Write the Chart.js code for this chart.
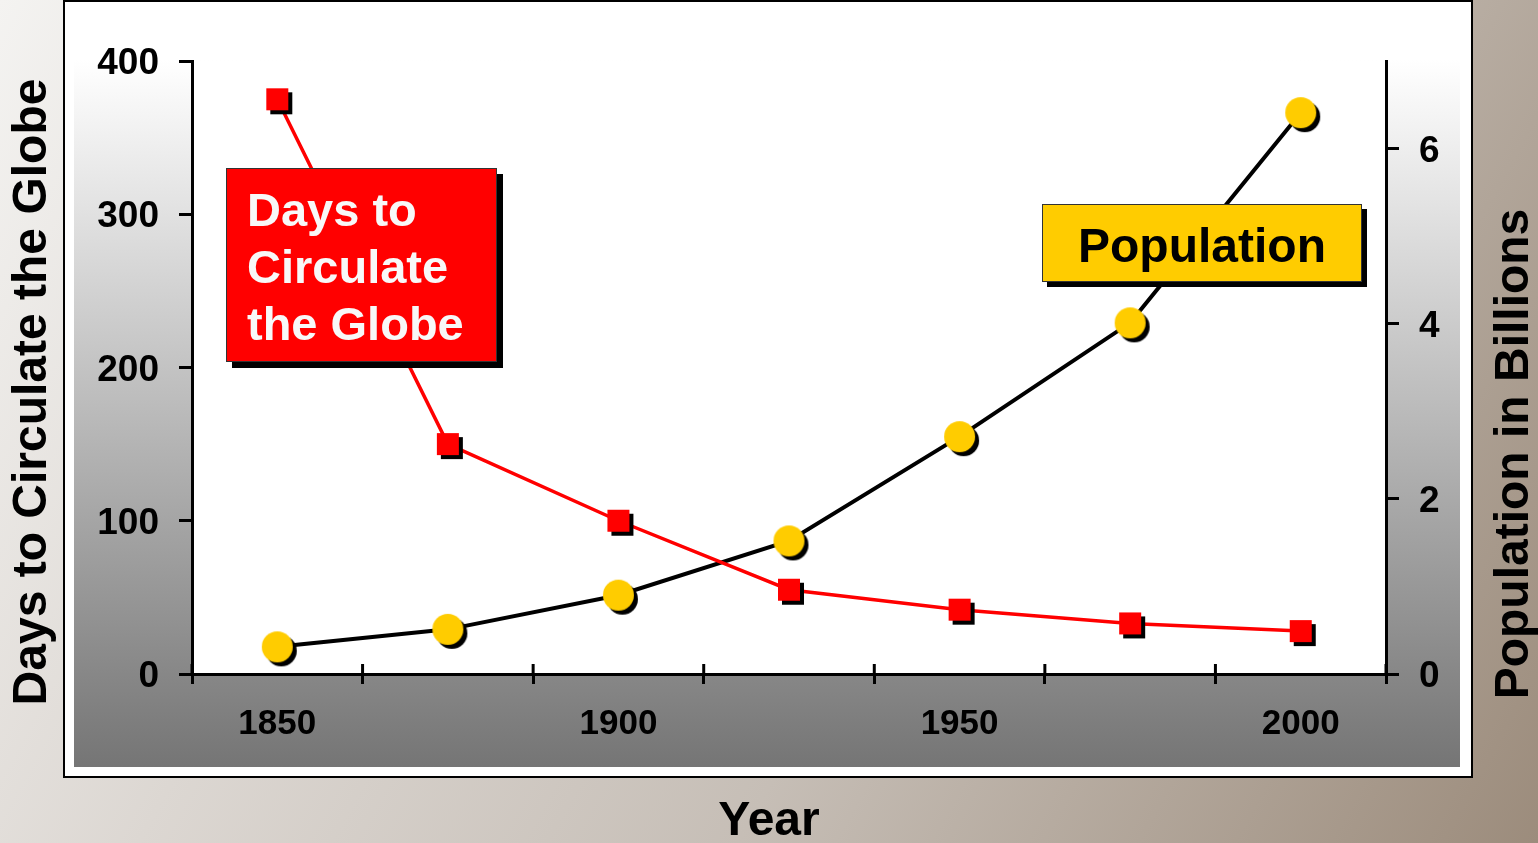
<!DOCTYPE html>
<html lang="en">
<head>
    <meta charset="UTF-8">
    <title>Days to Circulate the Globe vs Population</title>
    <script src="https://cdn.jsdelivr.net/npm/chart.js"></script>
    <style>
        body { margin: 0; overflow: hidden; }
        #wrap { width: 1538px; height: 843px; }
    </style>
</head>
<body>
    <div id="wrap">
        <canvas id="globeChart" width="1538" height="843"></canvas>
    </div>

    <script>
        // Data
        const years = ["1850", "1875", "1900", "1925", "1950", "1975", "2000"];
        const daysToCircle = [375, 150, 100, 55, 42, 33, 28];
        const populationBillions = [0.31, 0.51, 0.9, 1.52, 2.71, 4.01, 6.41];
        const daysTicks = [0, 100, 200, 300, 400];
        const popTicks = [0, 2, 4, 6];
        const yearLabelsShown = ["1850", "1900", "1950", "2000"];

        const FONT = '"Liberation Sans", Arial, Helvetica, sans-serif';

        // point images with a black drop shadow
        function makeMarker(kind, fill, size, off) {
            const c = document.createElement("canvas");
            const W = Math.ceil(size + off * 2 + 2);
            c.width = W; c.height = W;
            const g = c.getContext("2d");
            const cx = W / 2;
            const shape = (x, y) => {
                g.beginPath();
                if (kind === "rect") g.rect(x - size / 2, y - size / 2, size, size);
                else g.arc(x, y, size / 2, 0, Math.PI * 2);
                g.fill();
            };
            g.fillStyle = "#000";
            shape(cx + off, cx + off);
            g.fillStyle = fill;
            shape(cx, cx);
            return c;
        }

        const squareMark = makeMarker("rect", "#ff0000", 22, 4);
        const circleMark = makeMarker("circle", "#ffcc00", 31, 4);

        // backgrounds behind the chart
        const backdrop = {
            id: "backdrop",
            beforeDraw(chart) {
                const ctx = chart.ctx;
                const a = chart.chartArea;
                ctx.save();
                let g = ctx.createLinearGradient(0, 0, 1538, 843);
                g.addColorStop(0, "#f4f3f1");
                g.addColorStop(0.3, "#dcd7d2");
                g.addColorStop(0.6, "#c6beb6");
                g.addColorStop(1, "#9c8c7c");
                ctx.fillStyle = g;
                ctx.fillRect(0, 0, 1538, 843);

                ctx.fillStyle = "#ffffff";
                ctx.fillRect(64, 1, 1408, 776);
                ctx.strokeStyle = "#000";
                ctx.lineWidth = 2;
                ctx.strokeRect(64, 1, 1408, 776);

                g = ctx.createLinearGradient(0, 60, 0, 767);
                g.addColorStop(0, "#ffffff");
                g.addColorStop(1, "#757575");
                ctx.fillStyle = g;
                ctx.fillRect(74, 60, 1386, 707);

                ctx.fillStyle = "#ffffff";
                ctx.fillRect(a.left, a.top, a.right - a.left, a.bottom - a.top);
                ctx.restore();
            }
        };

        // x ticks cross the axis line; draw the part inside the plot
        const xTickCross = {
            id: "xTickCross",
            afterDraw(chart) {
                const s = chart.scales.x;
                const ctx = chart.ctx;
                const step = s.getPixelForValue(1) - s.getPixelForValue(0);
                ctx.save();
                ctx.strokeStyle = "#000";
                ctx.lineWidth = 3;
                for (let i = 0; i <= years.length; i++) {
                    const px = s.getPixelForValue(i) - step / 2;
                    ctx.beginPath();
                    ctx.moveTo(px, s.top);
                    ctx.lineTo(px, s.top - 10);
                    ctx.stroke();
                }
                ctx.restore();
            }
        };

        // axis titles and the two callout boxes
        const labels = {
            id: "labels",
            afterDraw(chart) {
                const ctx = chart.ctx;
                ctx.save();
                ctx.fillStyle = "#000";
                ctx.font = "bold 48px " + FONT;
                ctx.textAlign = "center";
                ctx.textBaseline = "alphabetic";

                ctx.save();
                ctx.translate(46, 392);
                ctx.rotate(-Math.PI / 2);
                ctx.fillText("Days to Circulate the Globe", 0, 0);
                ctx.restore();

                ctx.save();
                ctx.translate(1528, 454);
                ctx.rotate(-Math.PI / 2);
                ctx.fillText("Population in Billions", 0, 0);
                ctx.restore();

                ctx.fillText("Year", 769, 835);

                // red callout
                ctx.fillStyle = "#000";
                ctx.fillRect(232, 174, 271, 194);
                ctx.fillStyle = "#ff0000";
                ctx.fillRect(226, 168, 271, 194);
                ctx.strokeStyle = "#333";
                ctx.lineWidth = 1;
                ctx.strokeRect(226.5, 168.5, 270, 193);
                ctx.fillStyle = "#f8f8f8";
                ctx.textAlign = "left";
                ctx.font = "bold 47px " + FONT;
                ["Days to", "Circulate", "the Globe"].forEach((t, i) => {
                    ctx.fillText(t, 247, 226 + i * 57);
                });

                // yellow callout
                ctx.fillStyle = "#000";
                ctx.fillRect(1047, 209, 320, 78);
                ctx.fillStyle = "#ffcc00";
                ctx.fillRect(1042, 204, 320, 78);
                ctx.strokeStyle = "#333";
                ctx.strokeRect(1042.5, 204.5, 319, 77);
                ctx.fillStyle = "#000";
                ctx.textAlign = "center";
                ctx.font = "bold 48px " + FONT;
                ctx.fillText("Population", 1202, 262);
                ctx.restore();
            }
        };

        const xFont = { family: FONT, size: 35, weight: "bold" };
        const yFont = { family: FONT, size: 37, weight: "bold" };

        const ctx = document.getElementById("globeChart").getContext("2d");
        const globeChart = new Chart(ctx, {
            type: "line",
            data: {
                labels: years,
                datasets: [
                    {
                        label: "Days to Circulate the Globe",
                        data: daysToCircle,
                        yAxisID: "y",
                        borderColor: "#ff0000",
                        borderWidth: 3.5,
                        pointStyle: squareMark,
                        pointRadius: 12,
                        tension: 0
                    },
                    {
                        label: "Population",
                        data: populationBillions,
                        yAxisID: "y1",
                        borderColor: "#000000",
                        borderWidth: 4,
                        pointStyle: circleMark,
                        pointRadius: 16,
                        tension: 0
                    }
                ]
            },
            options: {
                responsive: false,
                animation: false,
                layout: { padding: { top: 61, left: 0, right: 0, bottom: 0 } },
                plugins: { legend: { display: false }, tooltip: { enabled: false } },
                scales: {
                    x: {
                        offset: true,
                        grid: { offset: true, drawOnChartArea: false, tickLength: 10, color: "#000", lineWidth: 3 },
                        border: { color: "#000", width: 3 },
                        ticks: {
                            color: "#000",
                            font: xFont,
                            padding: 19,
                            maxRotation: 0,
                            autoSkip: false,
                            callback: (v, i) => yearLabelsShown.includes(years[i]) ? years[i] : ""
                        },
                        afterFit: s => { s.height = 169; }
                    },
                    y: {
                        position: "left",
                        min: 0,
                        max: 400,
                        grid: { drawOnChartArea: false, tickLength: 13, color: "#000", lineWidth: 3 },
                        border: { color: "#000", width: 3 },
                        ticks: { color: "#000", font: yFont, padding: 20, labelOffset: 3 },
                        afterBuildTicks: s => { s.ticks = daysTicks.map(v => ({ value: v })); },
                        afterFit: s => { s.width = 192; }
                    },
                    y1: {
                        position: "right",
                        min: 0,
                        max: 7,
                        grid: { drawOnChartArea: false, tickLength: 13, color: "#000", lineWidth: 3 },
                        border: { color: "#000", width: 3 },
                        ticks: { color: "#000", font: yFont, padding: 20, labelOffset: 3 },
                        afterBuildTicks: s => { s.ticks = popTicks.map(v => ({ value: v })); },
                        afterFit: s => { s.width = 152; }
                    }
                }
            },
            plugins: [backdrop, xTickCross, labels]
        });
    </script>
</body>
</html>
